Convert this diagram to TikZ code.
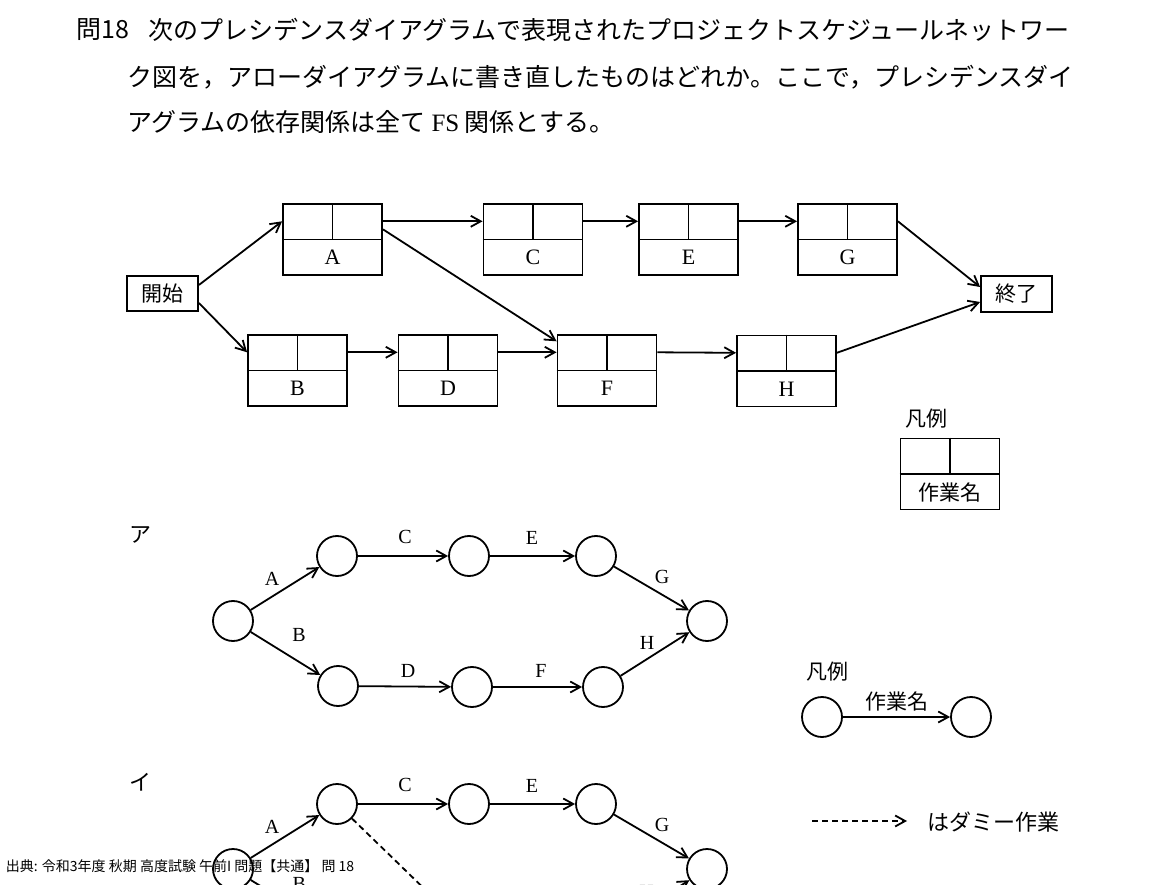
\documentclass[tikz,border=0pt]{standalone}
\usepackage{fontspec}
\setmainfont{Liberation Serif}
\newfontfamily\jp{Noto Sans CJK JP}
\usetikzlibrary{arrows.meta,calc}

\tikzset{
  task/.style={draw, minimum width=99pt, minimum height=71pt, inner sep=0pt},
  term/.style={draw, minimum width=71pt, minimum height=35pt, inner sep=0pt, font=\jp\fontsize{21}{21}\selectfont},
  event/.style={draw, circle, minimum size=40pt, inner sep=0pt},
  arr/.style={-{Straight Barb[length=10pt,width=11pt]}},
  dummy/.style={arr, dash pattern=on 6pt off 4pt},
  lbl/.style={font=\fontsize{20}{20}\selectfont, inner sep=0pt},
  boxlbl/.style={font=\fontsize{22}{22}\selectfont, inner sep=0pt},
  jlbl/.style={font=\jp\fontsize{21}{21}\selectfont, inner sep=0pt},
  jtext/.style={font=\jp\fontsize{25}{25}\selectfont, anchor=west, inner sep=0pt}
}

\begin{document}
\begin{tikzpicture}[x=1pt, y=-1pt, line width=1.8pt]
    \useasboundingbox (0,0) rectangle (1152,885);
    \clip (0,0) rectangle (1152,885);

    % question
    \node[jtext] (qno) at (76,30) {問18};
    \node[jtext] (line1) at (148,30) {次のプレシデンスダイアグラムで表現されたプロジェクトスケジュールネットワー};
    \node[jtext] (line2) at (127,77) {ク図を，アローダイアグラムに書き直したものはどれか。ここで，プレシデンスダイ};
    \node[jtext] (line3) at (127,122) {アグラムの依存関係は全て \textrm{FS} 関係とする。};

    % precedence diagram
    \node[term] (start) at (162.5,293.5) {開始};
    \node[term, minimum height=36pt] (goal) at (1016.5,294) {終了};
    \foreach \n/\x/\y in {A/332.5/239.5, C/533/239.5, E/688.5/239.5, G/847.5/239.5,
                          B/297.5/370.5, D/448/370.5, F/607/370.5, H/786.5/371} {
        \node[task] (\n) at (\x,\y) {};
        \draw (\n.west) -- (\n.east) (\n.north) -- (\n.center);
        \node[boxlbl] (\n-name) at ($(\n.center)!.5!(\n.south)$) {\n};
        \coordinate (\n-in) at ($(\n.north west)!.5!(\n.west)$);
        \coordinate (\n-out) at ($(\n.north east)!.5!(\n.east)$);
    }
    \draw[arr] ([yshift=8.5pt]start.east) -- (A-in);
    \draw[arr] ([yshift=-9.5pt]start.east) -- (B-in);
    \draw[arr] (A-out) -- (C-in);
    \draw[arr] ([yshift=-8pt]A-out) -- ([yshift=11pt]F-in);
    \draw[arr] (C-out) -- (E-in);
    \draw[arr] (E-out) -- (G-in);
    \draw[arr] (B-out) -- (D-in);
    \draw[arr] (D-out) -- (F-in);
    \draw[arr] (F-out) -- (H-in);
    \draw[arr] (G-out) -- ([yshift=7pt]goal.west);
    \draw[arr] (H-out) -- ([yshift=-8pt]goal.west);

    \node[jlbl] (key1) at (926,419) {凡例};
    \node[task] (keybox) at (950,474) {};
    \draw (keybox.west) -- (keybox.east) (keybox.north) -- (keybox.center);
    \node[jlbl] (keyname) at ($(keybox.center)!.5!(keybox.south)$) {作業名};

    % option a
    \node[jtext, anchor=center, font=\jp\fontsize{22}{22}\selectfont] (optA) at (140,535) {ア};
    \foreach \n/\x/\y in {a0/233/621, a1/337/556, a2/469/556, a3/596/556,
                          a4/707/621, a5/338/686, a6/472/687, a7/603/687}
        \node[event] (\n) at (\x,\y) {};
    \draw[arr] (a0) -- node[lbl, xshift=-13pt, yshift=9.5pt] {A} (a1);
    \draw[arr] (a0) -- node[lbl, xshift=13.5pt, yshift=18.5pt] {B} (a5);
    \draw[arr] (a1) -- node[lbl, xshift=2pt, yshift=19pt] {C} (a2);
    \draw[arr] (a5) -- node[lbl, xshift=3pt, yshift=15.5pt] {D} (a6);
    \draw[arr] (a2) -- node[lbl, xshift=-0.5pt, yshift=18pt] {E} (a3);
    \draw[arr] (a6) -- node[lbl, xshift=3.5pt, yshift=16pt] {F} (a7);
    \draw[arr] (a3) -- node[lbl, xshift=10.5pt, yshift=11.5pt] {G} (a4);
    \draw[arr] (a7) -- node[lbl, xshift=-8pt, yshift=11pt] {H} (a4);

    % legend
    \node[jlbl] (key2) at (827,672) {凡例};
    \node[event] (k1) at (822,717) {};
    \node[event] (k2) at (971,717) {};
    \draw[arr] (k1) -- node[jlbl, yshift=15pt] {作業名} (k2);
    \coordinate (d1) at (812,821);
    \coordinate (d2) at (907,821);
    \draw[dummy] (d1) -- (d2);
    \node[jlbl, anchor=west, font=\jp\fontsize{22}{22}\selectfont] (dummytext) at (927,822) {はダミー作業};

    % option i
    \node[jtext, anchor=center, font=\jp\fontsize{22}{22}\selectfont] (optI) at (140,782) {イ};
    \foreach \n/\x/\y in {i0/233/869, i1/337/804, i2/469/804, i3/596/804, i4/707/869}
        \node[event] (\n) at (\x,\y) {};
    \coordinate (i5) at (338,934);
    \coordinate (i6) at (472,935);
    \coordinate (i7) at (603,935);
    \draw[arr] (i0) -- node[lbl, xshift=-13pt, yshift=9.5pt] {A} (i1);
    \draw[arr] (i0) -- node[lbl, xshift=5pt, yshift=23pt] {B} (i5);
    \draw[arr] (i1) -- node[lbl, xshift=2pt, yshift=19pt] {C} (i2);
    \draw[arr] (i2) -- node[lbl, xshift=-0.5pt, yshift=18pt] {E} (i3);
    \draw[arr] (i3) -- node[lbl, xshift=10.5pt, yshift=11.5pt] {G} (i4);
    \draw[arr] (i7) -- node[lbl, xshift=0.5pt, yshift=16pt] {H} (i4);
    \draw[dummy] (i1) -- (i6);

    \node[anchor=west, inner sep=0pt, font=\jp\fontsize{14}{14}\selectfont] (src) at (5,866) {出典: 令和3年度 秋期 高度試験 午前I 問題【共通】 問 18};
\end{tikzpicture}
\end{document}
